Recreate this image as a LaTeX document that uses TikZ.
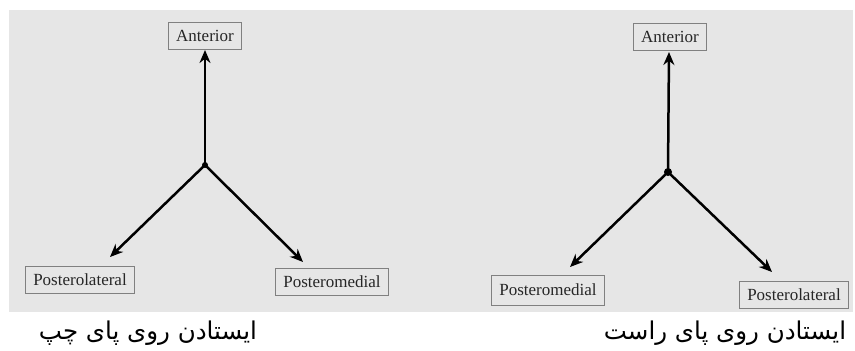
\documentclass[tikz,border=0pt]{standalone}
\usepackage{fontspec}
\setmainfont{Liberation Serif}
\newfontfamily\arabicfont[Script=Arabic]{DejaVu Sans}
\TeXXeTstate=1
\usetikzlibrary{arrows.meta}
\definecolor{panel}{HTML}{E6E6E6}

\begin{document}
\begin{tikzpicture}[x=1pt, y=-1pt,
    dirbox/.style={draw=black!50, line width=1pt, text=black!85, inner xsep=8pt, minimum height=27pt, font=\fontsize{17}{19}\selectfont},
    dirarrow/.style={-{Stealth[length=13pt, width=11pt]}, line width=2.5pt},
    caption/.style={font=\arabicfont\fontsize{24.5}{28}\selectfont}]
        \useasboundingbox (0, 0) rectangle (855, 351);
        \fill [panel] (9, 10) rectangle (853, 312);

        \node[dirbox] (antL) at (205, 36) {Anterior};
        \node[dirbox] (plL) at (80, 280) {Posterolateral};
        \node[dirbox] (pmL) at (332, 282) {Posteromedial};
        \coordinate (cL) at (205, 165);
        \coordinate (tipLa) at (205, 50);
        \coordinate (tipLb) at (110, 257);
        \coordinate (tipLc) at (303, 262);
        \fill (cL) circle (3);
        \draw[dirarrow] (cL) -- (tipLa);
        \draw[dirarrow] (cL) -- (tipLb);
        \draw[dirarrow] (cL) -- (tipLc);

        \node[dirbox] (antR) at (670, 37) {Anterior};
        \node[dirbox, minimum height=30pt] (pmR) at (548, 290) {Posteromedial};
        \node[dirbox] (plR) at (794, 295) {Posterolateral};
        \coordinate (cR) at (668, 172);
        \coordinate (tipRa) at (669, 52);
        \coordinate (tipRb) at (570, 267);
        \coordinate (tipRc) at (772, 272);
        \fill (cR) circle (4);
        \draw[dirarrow] (cR) -- (tipRa);
        \draw[dirarrow] (cR) -- (tipRb);
        \draw[dirarrow] (cR) -- (tipRc);

        \node[caption] (capL) at (148, 333) {\beginR ایستادن روی پای چپ\endR};
        \node[caption] (capR) at (725, 333) {\beginR ایستادن روی پای راست\endR};
    \end{tikzpicture}
\end{document}
